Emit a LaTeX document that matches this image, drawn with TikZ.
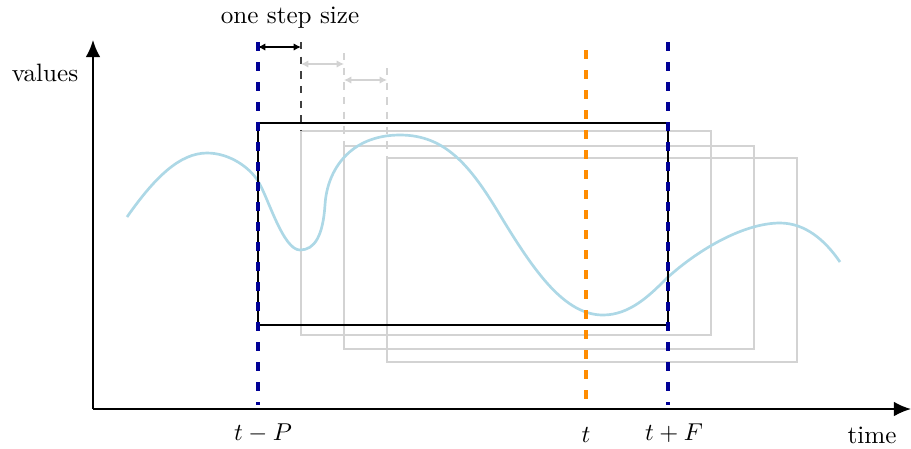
\documentclass[tikz,border=0pt]{standalone}
\usetikzlibrary{arrows.meta}
\definecolor{curvecol}{RGB}{173,216,230}
\definecolor{navyline}{RGB}{0,0,150}
\definecolor{orangeline}{RGB}{255,140,0}
\definecolor{graybox}{RGB}{211,211,211}
\begin{document}
\begin{tikzpicture}[x=0.41pt,y=-0.41pt,
  axis/.style={line width=0.8pt,-{Latex[length=7pt,width=6pt]}},
  marker/.style={line width=1.3pt,dash pattern=on 3.8pt off 4.4pt},
  winbox/.style={line width=0.8pt},
  ghostbox/.style={draw=graybox,line width=0.8pt},
  steparrow/.style={line width=0.5pt,{Latex[length=3pt,width=3pt]}-{Latex[length=3pt,width=3pt]}},
  stepguide/.style={line width=0.5pt,dash pattern=on 3pt off 3pt},
  lbl/.style={inner sep=0pt,font=\fontsize{10.3}{12}\selectfont}]
\useasboundingbox (0,0) rectangle (911,448);
% axes
\coordinate (O) at (93,409);
\coordinate (Ytop) at (93,40);
\coordinate (Xend) at (911,409);
\draw[axis] (O) -- (Ytop);
\draw[axis] (O) -- (Xend);
\node[lbl] (values) at (45,73) {values};
\node[lbl] (time) at (872,435) {time};
% ghost windows
\draw[ghostbox] (387,158) rectangle (797,362);
\draw[ghostbox] (344,146) rectangle (754,349);
\draw[ghostbox] (301,131) rectangle (711,335);
% step guides
\coordinate (g1t) at (301,42); \coordinate (g1b) at (301,131);
\coordinate (g2t) at (344,53); \coordinate (g2b) at (344,146);
\coordinate (g3t) at (387,68); \coordinate (g3b) at (387,158);
\draw[stepguide,black!75] (g1t) -- (g1b);
\draw[stepguide,graybox] (g2t) -- (g2b);
\draw[stepguide,graybox] (g3t) -- (g3b);
\coordinate (a1s) at (258,47); \coordinate (a1e) at (301,47);
\coordinate (a2s) at (301,64); \coordinate (a2e) at (344,64);
\coordinate (a3s) at (344,80); \coordinate (a3e) at (387,80);
\draw[steparrow,black] (a1s) -- (a1e);
\draw[steparrow,graybox] (a2s) -- (a2e);
\draw[steparrow,graybox] (a3s) -- (a3e);
\node[lbl] (step) at (290,18) {one step size};
% curve
\draw[curvecol,line width=1.1pt]
 (127,217) .. controls (155,177) and (180,153) .. (207,153)
 .. controls (230,153) and (250,168) .. (258,181)
 .. controls (268,197) and (283,250) .. (300,250)
 .. controls (315,250) and (323,235) .. (325,205)
 .. controls (327,170) and (350,135) .. (400,135)
 .. controls (445,135) and (470,165) .. (500,215)
 .. controls (535,273) and (565,315) .. (603,315)
 .. controls (630,315) and (650,295) .. (667,278)
 .. controls (700,248) and (745,223) .. (780,223)
 .. controls (805,223) and (825,240) .. (840,262);
% main window
\draw[winbox] (258,123) rectangle (668,325);
% markers
\coordinate (p1t) at (258,42); \coordinate (p1b) at (258,405);
\coordinate (p2t) at (668,42); \coordinate (p2b) at (668,405);
\coordinate (p3t) at (586,50); \coordinate (p3b) at (586,409);
\draw[marker,navyline] (p1t) -- (p1b);
\draw[marker,navyline] (p2t) -- (p2b);
\draw[marker,orangeline] (p3t) -- (p3b);
\node[lbl] (tP) at (263,433) {$t-P$};
\node[lbl] (t) at (586,435) {$t$};
\node[lbl] (tF) at (674,433) {$t+F$};
\end{tikzpicture}
\end{document}
